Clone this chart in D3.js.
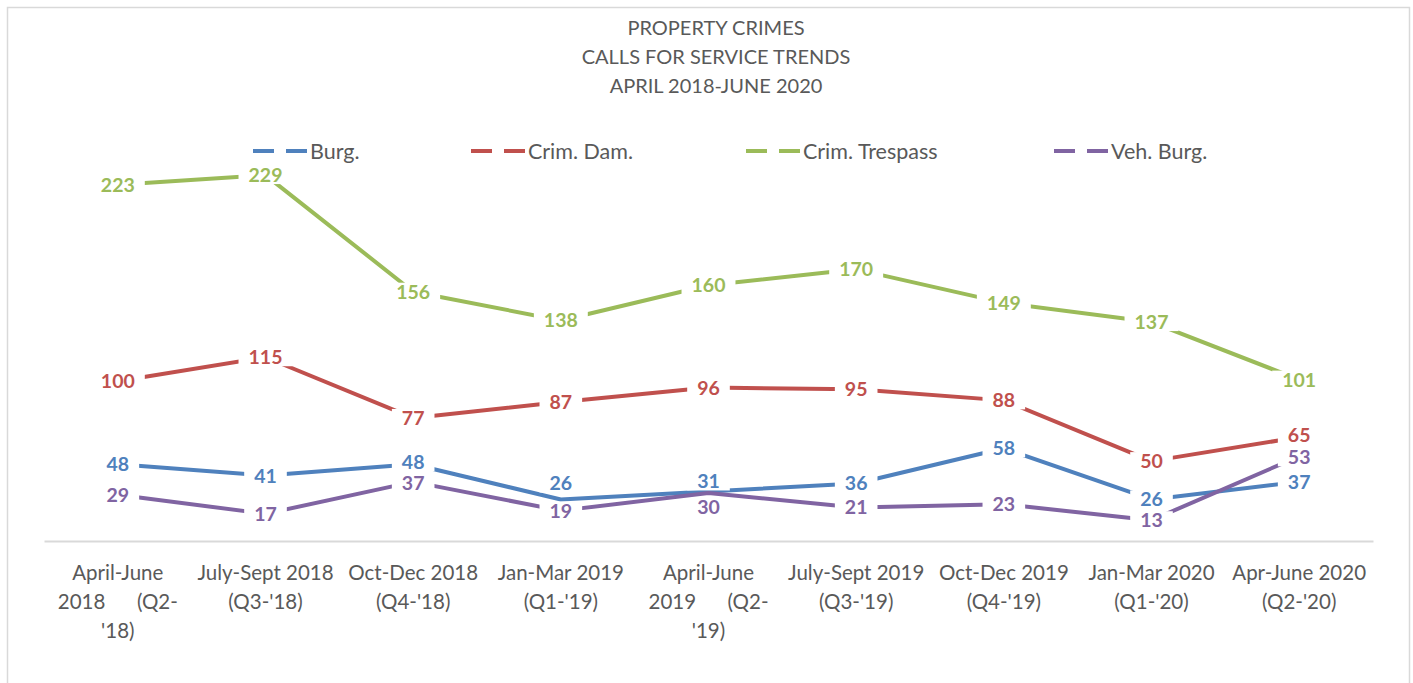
<!DOCTYPE html>
<html>
<head>
<meta charset="utf-8">
<script src="https://cdn.jsdelivr.net/npm/d3@7"></script>
<style>
  body { margin: 0; background: #fff; }
  svg text { font-family: Lato, "Open Sans", sans-serif; }
</style>
</head>
<body>
<svg id="chart" width="1413" height="683"></svg>
<script>
// quarters on the x axis, each label already split into its lines
const quarters = ['Q2-18', 'Q3-18', 'Q4-18', 'Q1-19', 'Q2-19', 'Q3-19', 'Q4-19', 'Q1-20', 'Q2-20'];
const tickLines = [
  ['April-June', '2018      (Q2-', "'18)"],
  ['July-Sept 2018', "(Q3-'18)"],
  ['Oct-Dec 2018', "(Q4-'18)"],
  ['Jan-Mar 2019', "(Q1-'19)"],
  ['April-June', '2019      (Q2-', "'19)"],
  ['July-Sept 2019', "(Q3-'19)"],
  ['Oct-Dec 2019', "(Q4-'19)"],
  ['Jan-Mar 2020', "(Q1-'20)"],
  ['Apr-June 2020', "(Q2-'20)"]
];

const seriesNames = ['Burg.', 'Crim. Dam.', 'Crim. Trespass', 'Veh. Burg.'];
const burg = [48, 41, 48, 26, 31, 36, 58, 26, 37];
const crimDam = [100, 115, 77, 87, 96, 95, 88, 50, 65];
const crimTrespass = [223, 229, 156, 138, 160, 170, 149, 137, 101];
const vehBurg = [29, 17, 37, 19, 30, 21, 23, 13, 53];
const titleLines = ['PROPERTY CRIMES', 'CALLS FOR SERVICE TRENDS', 'APRIL 2018-JUNE 2020'];

const colors = ['#4f81bd', '#c0504d', '#9bbb59', '#8064a2'];
const legendX = [253, 471, 746, 1054];
// labels that were pulled off their point so they don't collide (px)
const labelNudge = {
  'Burg.|Q1-19': -16, 'Burg.|Q2-19': -10, 'Veh. Burg.|Q2-19': 14,
  'Burg.|Q4-18': -2, 'Veh. Burg.|Q4-18': 1,
  'Crim. Dam.|Q2-20': -2, 'Veh. Burg.|Q2-20': 1
};

const svg = d3.select('#chart');
const series = [burg, crimDam, crimTrespass, vehBurg].map((vals, i) => ({
  name: seriesNames[i], color: colors[i], values: vals
}));

// chart border
svg.append('rect')
  .attr('x', 7.5).attr('y', 7.5)
  .attr('width', 1402).attr('height', 700)
  .attr('fill', 'none')
  .attr('stroke', '#d9d9d9')
  .attr('stroke-width', 1.5);

const x = d3.scaleBand().domain(quarters).range([44, 1373]);
const cx = q => x(q) + x.bandwidth() / 2;
const y = d3.scaleLinear().domain([0, 250]).range([541, 141.5]);

// title
svg.append('text')
  .attr('text-anchor', 'middle')
  .attr('fill', '#595959')
  .style('font-size', '20px')
  .selectAll('tspan')
  .data(titleLines)
  .enter()
  .append('tspan')
  .attr('x', 716)
  .attr('y', (d, i) => 35 + i * 29)
  .text(d => d);

// x axis
const xAxis = d3.axisBottom(x).tickSize(0).tickPadding(0);
const gx = svg.append('g')
  .attr('class', 'x-axis')
  .attr('transform', 'translate(0,541)')
  .call(xAxis);
gx.select('.domain').attr('stroke', '#d9d9d9').attr('stroke-width', 2);
gx.selectAll('.tick text').each(function(d, i) {
  const t = d3.select(this);
  t.text(null)
    .attr('fill', '#595959')
    .attr('y', 0)
    .attr('dy', null)
    .style('font-size', '20.5px')
    .style('white-space', 'pre')
    .attr('font-family', null);
  tickLines[i].forEach((line, j) => {
    t.append('tspan').attr('x', 0).attr('y', 39 + j * 29).text(line);
  });
});

// lines
const line = d3.line()
  .x((d, i) => cx(quarters[i]))
  .y(d => y(d));

svg.selectAll('.series-line')
  .data(series)
  .enter()
  .append('path')
  .classed('series-line', true)
  .attr('d', s => line(s.values))
  .attr('fill', 'none')
  .attr('stroke', s => s.color)
  .attr('stroke-width', 4)
  .attr('stroke-linejoin', 'round');

// data labels: white boxes first, then the text on top
const labels = [];
series.forEach(s => {
  s.values.forEach((v, i) => labels.push({
    v: v, q: quarters[i], color: s.color,
    dy: labelNudge[s.name + '|' + quarters[i]] || 0
  }));
});

const boxes = svg.append('g');
const texts = svg.append('g');
labels.forEach(l => {
  const ly = y(l.v) + l.dy;
  const t = texts.append('text')
    .attr('x', cx(l.q))
    .attr('y', ly)
    .attr('dy', '0.36em')
    .attr('text-anchor', 'middle')
    .attr('fill', l.color)
    .style('font-size', '19.5px')
    .style('font-weight', 'bold')
    .text(l.v);
  const w = t.node().getComputedTextLength();
  boxes.append('rect')
    .attr('x', cx(l.q) - w / 2 - 10)
    .attr('y', ly - 9)
    .attr('width', w + 20)
    .attr('height', 18)
    .attr('fill', '#fff');
});

// legend
const legend = svg.append('g').attr('class', 'legend');
series.forEach((s, i) => {
  const g = legend.append('g').attr('transform', `translate(${legendX[i]},151)`);
  g.append('line')
    .attr('x1', 0).attr('x2', 54)
    .attr('y1', 0).attr('y2', 0)
    .attr('stroke', s.color)
    .attr('stroke-width', 4)
    .attr('stroke-dasharray', '21,12');
  g.append('text')
    .attr('x', 57)
    .attr('dy', '0.35em')
    .attr('fill', '#595959')
    .style('font-size', '21.5px')
    .text(s.name);
});
</script>
</body>
</html>
